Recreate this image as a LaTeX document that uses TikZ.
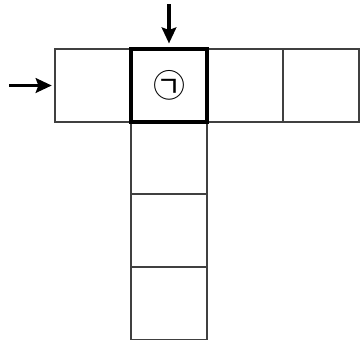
\documentclass[tikz,border=0pt]{standalone}
\usepackage{fontspec}
\newfontfamily\cjk{Noto Sans CJK KR}
\usetikzlibrary{arrows.meta,positioning}

\begin{document}
\begin{tikzpicture}[x=0.75pt, y=-0.75pt,
    cell/.style={draw=black!75, line width=0.9pt, minimum width=57pt, minimum height=54.75pt, inner sep=0pt},
    boldcell/.style={cell, draw=black, line width=2.4pt},
    pointer/.style={-{Stealth[length=12pt, width=11pt, inset=2pt]}, line width=2.3pt}]
    \useasboundingbox (0,0) rectangle (361,344);

    % --- Top row ---
    \node[cell] (c1) at (93,85.5) {};
    \node[cell] (c3) at (245,85.5) {};
    \node[cell] (c4) at (321,85.5) {};

    % --- Column below ---
    \node[cell] (d1) at (169,158) {};
    \node[cell] (d2) at (169,230.5) {};
    \node[cell] (d3) at (169,303) {};

    % Marked cell
    \node[boldcell] (c2) at (169,85.5) {\cjk\fontsize{24}{24}\selectfont ㉠};

    % Arrows
    \coordinate (lstart) at (9,85.5);
    \coordinate (tstart) at (169,4);
    \draw[pointer] (lstart) -- ([xshift=-2pt]c1.west);
    \draw[pointer] (tstart) -- ([yshift=3pt]c2.north);
\end{tikzpicture}
\end{document}
